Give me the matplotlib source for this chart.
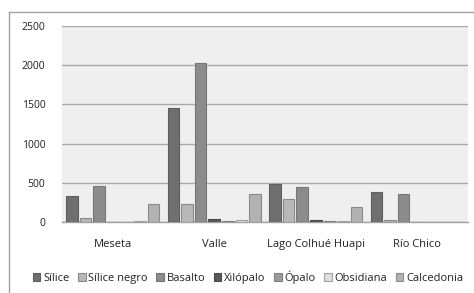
import matplotlib.pyplot as plt
import numpy as np
from matplotlib.lines import Line2D

# Data ==================================================
categories = ["Meseta", "Valle", "Lago Colhué Huapi", "Río Chico"]
series = ["Sílice", "Sílice negro", "Basalto", "Xilópalo", "Ópalo", "Obsidiana", "Calcedonia"]

silice = [330, 1450, 480, 378]
silice_negro = [48, 230, 288, 25]
basalto = [455, 2030, 442, 352]
xilopalo = [0, 38, 25, 0]
opalo = [0, 12, 12, 0]
obsidiana = [12, 24, 12, 0]
calcedonia = [230, 352, 188, 0]

values = [silice, silice_negro, basalto, xilopalo, opalo, obsidiana, calcedonia]
colors = ["#6f6f6f", "#b8b8b8", "#8c8c8c", "#595959", "#9c9c9c", "#dedede", "#b2b2b2"]
edges = ["#5e5e5e", "#8a8a8a", "#767676", "#4a4a4a", "#808080", "#a0a0a0", "#8a8a8a"]
# =======================================================

W, H = 474, 293
fig = plt.figure(figsize=(W / 100, H / 100), dpi=100)
plt.rcParams["font.family"] = ["Open Sans", "DejaVu Sans"]

ax = fig.add_axes([62 / W, 1 - 222 / H, 406 / W, 196 / H])
ax.set_facecolor("#efefef")

x = np.arange(len(categories))
step = 0.134
width = 0.114
for i, (name, vals) in enumerate(zip(series, values)):
    ax.bar(x + (i - 3) * step, vals, width, color=colors[i], edgecolor=edges[i],
           linewidth=0.8, label=name, zorder=3)

ax.set_xlim(-0.5, 3.5)
ax.set_ylim(0, 2500)
ax.set_yticks(range(0, 2501, 500))
ax.yaxis.grid(True, color="#a8a8a8", linewidth=1.0, zorder=1)
for s in ["left", "right", "top"]:
    ax.spines[s].set_visible(False)
ax.spines["bottom"].set_color("#a0a0a0")
ax.spines["bottom"].set_linewidth(1.0)

ax.set_xticks(x)
ax.set_xticklabels(categories)
ax.tick_params(axis="x", length=0, pad=12, labelsize=8, labelcolor="#222222")
ax.tick_params(axis="y", length=0, pad=12, labelsize=7.5, labelcolor="#222222")

# chart frame
fig.add_artist(Line2D([9 / W, 9 / W], [0, 1 - 12 / H], color="#a0a0a0", linewidth=1.0))
fig.add_artist(Line2D([9 / W, 1], [1 - 12 / H, 1 - 12 / H], color="#a0a0a0", linewidth=1.0))

handles, labels = ax.get_legend_handles_labels()
fig.legend(handles, labels, loc="center", bbox_to_anchor=(248 / W, 1 - 277 / H), ncol=7,
           frameon=False, fontsize=8, handlelength=0.7, handleheight=0.7,
           handletextpad=0.25, columnspacing=0.75, labelcolor="#222222")

fig.savefig("out.png", dpi=100)
